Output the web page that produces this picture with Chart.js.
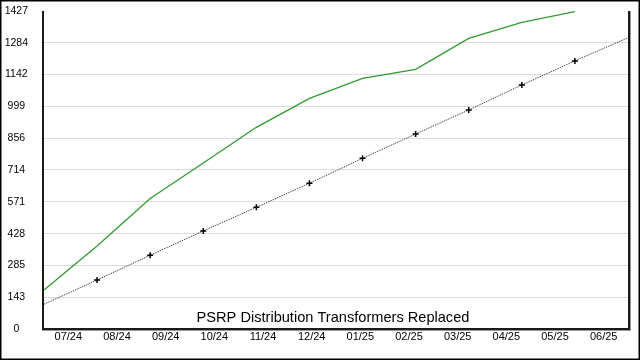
<!DOCTYPE html>
<html>
<head>
<meta charset="utf-8">
<script src="https://cdn.jsdelivr.net/npm/chart.js@4/dist/chart.umd.min.js"></script>
<style>
  html, body { margin: 0; padding: 0; background: #fff; }
  #wrap { width: 640px; height: 360px; }
</style>
</head>
<body>
<div id="wrap"><canvas id="chartPsrp" width="640" height="360"></canvas></div>
<script>
// --- DONNEES ---
const months = ['07/24', '08/24', '09/24', '10/24', '11/24', '12/24', '01/25', '02/25', '03/25', '04/25', '05/25', '06/25'];
const replaced = [175, 372, 586, 745, 905, 1035, 1125, 1165, 1304, 1376, 1424, null];
const target = [111, 220, 331, 440, 546, 654, 766, 875, 983, 1095, 1203, 1307];
const yTicks = [0, 143, 285, 428, 571, 714, 856, 999, 1142, 1284, 1427];
const chartTitle = 'PSRP Distribution Transformers Replaced';

const FONT = "'Liberation Sans', Arial, sans-serif";

// --- CADRE, AXES ET TITRE ---
const framePlugin = {
    id: 'framePlugin',
    beforeDraw(chart) {
        const ctx = chart.ctx;
        ctx.save();
        ctx.fillStyle = '#fff';
        ctx.fillRect(0, 0, chart.width, chart.height);
        ctx.restore();
    },
    afterDraw(chart) {
        const ctx = chart.ctx, a = chart.chartArea;
        ctx.save();
        // axes
        ctx.fillStyle = '#1a1a1a';
        ctx.fillRect(a.left - 2, a.top, 2, a.bottom - a.top + 1);
        ctx.fillRect(a.right, a.top, 2, a.bottom - a.top + 1);
        ctx.fillRect(a.left - 2, a.bottom - 1, a.right - a.left + 4, 2);
        ctx.fillStyle = '#9a9a9a';
        ctx.fillRect(a.right + 2, a.top, 1, a.bottom - a.top + 2);
        ctx.fillRect(a.left - 2, a.bottom + 1, a.right - a.left + 5, 1);
        // titre dans la zone du graphique
        ctx.fillStyle = '#000';
        ctx.font = '14.6px ' + FONT;
        ctx.textAlign = 'center';
        ctx.textBaseline = 'middle';
        ctx.fillText(chartTitle, (a.left + a.right) / 2 - 3, a.bottom - 11);
        // bordure exterieure
        ctx.strokeStyle = '#000';
        ctx.lineWidth = 1.5;
        ctx.strokeRect(0.75, 0.75, chart.width - 1.5, chart.height - 1.5);
        ctx.restore();
    }
};

// --- GRAPHIQUE ---
let chartInstance = new Chart(document.getElementById('chartPsrp').getContext('2d'), {
    type: 'line',
    data: {
        labels: months,
        datasets: [
            {
                label: 'Replaced',
                data: replaced,
                xAxisID: 'x2',
                borderColor: '#339933',
                borderWidth: 1.3,
                pointRadius: 0,
                tension: 0,
                fill: false
            },
            {
                label: 'Target',
                data: target,
                xAxisID: 'x2',
                borderColor: '#222',
                borderWidth: 1,
                borderDash: [1, 1],
                pointStyle: 'cross',
                pointRadius: ctx => (ctx.dataIndex === 0 || ctx.dataIndex === target.length - 1) ? 0 : 3,
                pointBorderColor: '#000',
                pointBorderWidth: 1.5,
                tension: 0,
                fill: false
            }
        ]
    },
    options: {
        responsive: false,
        devicePixelRatio: 1,
        animation: false,
        layout: { padding: { top: 11, right: 12, left: 0, bottom: 0 } },
        plugins: { legend: { display: false }, tooltip: { enabled: false }, title: { display: false } },
        scales: {
            x: {
                type: 'category',
                offset: true,
                grid: { display: false, drawTicks: false },
                border: { display: false },
                ticks: { color: '#000', font: { family: FONT, size: 11 }, padding: 1, maxRotation: 0, autoSkip: false },
                afterFit: s => { s.height = 31; }
            },
            x2: {
                type: 'category',
                offset: false,
                display: false
            },
            y: {
                min: 0,
                max: 1427,
                afterBuildTicks: s => { s.ticks = yTicks.map(v => ({ value: v })); },
                grid: {
                    drawTicks: false,
                    color: ctx => (ctx.tick && (ctx.tick.value === 0 || ctx.tick.value === 1427)) ? 'rgba(0,0,0,0)' : '#dcdcdc',
                    lineWidth: 1
                },
                border: { display: false },
                ticks: { color: '#000', font: { family: FONT, size: 10.5 }, crossAlign: 'center', padding: 16, callback: v => String(v) },
                afterFit: s => { s.width = 44; s.paddingTop = 0; s.paddingBottom = 0; }
            }
        }
    },
    plugins: [framePlugin]
});
</script>
</body>
</html>
